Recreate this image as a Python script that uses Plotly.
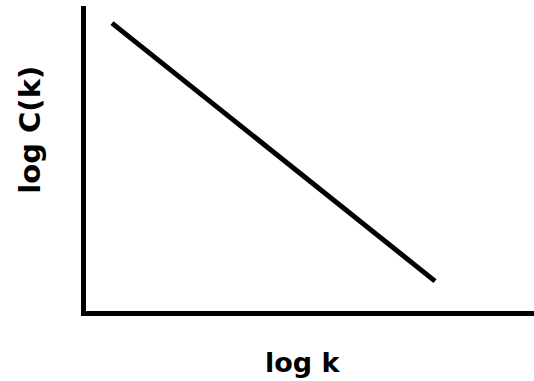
import plotly.graph_objects as go

# Schematic power-law decay of the clustering coefficient
log_k = [0.58, 7.79]
log_C = [9.44, 0.98]

x_title = "log k"
y_title = "log C(k)"

fig = go.Figure(
    go.Scatter(
        x=log_k,
        y=log_C,
        mode="lines",
        line=dict(color="black", width=5),
        hoverinfo="skip",
        showlegend=False,
    )
)

axis_style = dict(
    showline=True,
    linecolor="black",
    linewidth=5,
    showgrid=False,
    zeroline=False,
    showticklabels=False,
    ticks="",
    range=[0, 10],
    fixedrange=True,
)
fig.update_xaxes(**axis_style)
fig.update_yaxes(**axis_style)

label_font = dict(family="DejaVu Sans", size=29, color="black", weight="bold")
fig.add_annotation(
    text=x_title,
    xref="paper", yref="paper", x=0.484, y=-0.170,
    xanchor="center", yanchor="middle", showarrow=False,
    font=dict(label_font, size=27),
)
fig.add_annotation(
    text=y_title,
    xref="paper", yref="paper", x=-0.127, y=0.595,
    xanchor="center", yanchor="middle", textangle=-90, showarrow=False, font=label_font,
)

fig.update_layout(
    width=534,
    height=381,
    margin=dict(l=86, r=0, t=6, b=70),
    plot_bgcolor="white",
    paper_bgcolor="white",
)

fig.write_html("out.html")
